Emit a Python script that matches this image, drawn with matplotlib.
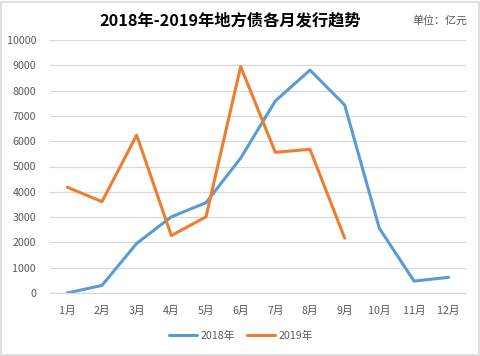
import matplotlib
matplotlib.use("Agg")
import matplotlib.pyplot as plt
from matplotlib.patches import Rectangle

plt.rcParams['font.family'] = ['Noto Sans CJK SC', 'DejaVu Sans']

months = ['1月', '2月', '3月', '4月', '5月', '6月', '7月', '8月', '9月', '10月', '11月', '12月']
issue_2018 = [0, 300, 1960, 3010, 3570, 5330, 7590, 8810, 7430, 2560, 470, 620]
issue_2019 = [4180, 3610, 6240, 2270, 3010, 8950, 5560, 5680, 2170]
y_ticks = [0, 1000, 2000, 3000, 4000, 5000, 6000, 7000, 8000, 9000, 10000]

W, H = 480, 356
fig = plt.figure(figsize=(W / 100, H / 100), dpi=100)
ax = fig.add_axes([50 / W, 1 - 293 / H, (466 - 50) / W, (293 - 40) / H])

ax.plot(range(len(issue_2018)), issue_2018, color='#5B9BD5', lw=2.2, label='2018年',
        solid_joinstyle='round', solid_capstyle='round')
ax.plot(range(len(issue_2019)), issue_2019, color='#ED7D31', lw=2.2, label='2019年',
        solid_joinstyle='round', solid_capstyle='round')

ax.set_xlim(-0.5, 11.5)
ax.set_ylim(0, 10000)
ax.set_yticks(y_ticks)
ax.set_yticklabels([str(v) for v in y_ticks])
ax.set_xticks(range(len(months)))
ax.set_xticklabels(months)
ax.tick_params(axis='both', length=0, labelsize=7.7, labelcolor='#595959')
ax.tick_params(axis='y', pad=10)
ax.tick_params(axis='x', pad=9)
ax.grid(axis='y', color='#d9d9d9', lw=0.9)
ax.set_axisbelow(True)
for s in ['left', 'right', 'top']:
    ax.spines[s].set_visible(False)
ax.spines['bottom'].set_color('#d9d9d9')
ax.spines['bottom'].set_linewidth(0.9)

fig.text(230.5 / W, 1 - 20 / H, '2018年-2019年地方债各月发行趋势', ha='center', va='center',
         fontsize=11.7, fontweight='bold', color='#000000')
fig.text(467 / W, 1 - 21 / H, '单位：亿元', ha='right', va='center', fontsize=7.9, color='#595959')

leg = fig.legend(loc='center', bbox_to_anchor=(241 / W, 1 - 336 / H), ncol=2, frameon=False,
                 fontsize=7.7, handlelength=2.6, columnspacing=1.2, handletextpad=0.3)
for t in leg.get_texts():
    t.set_color('#595959')

fig.add_artist(Rectangle((1 / W, 1 / H), (W - 2.5) / W, (H - 2.5) / H, transform=fig.transFigure,
                         fill=False, edgecolor='#d9d9d9', lw=1.2))

fig.savefig('out.png', dpi=100, facecolor='white')
